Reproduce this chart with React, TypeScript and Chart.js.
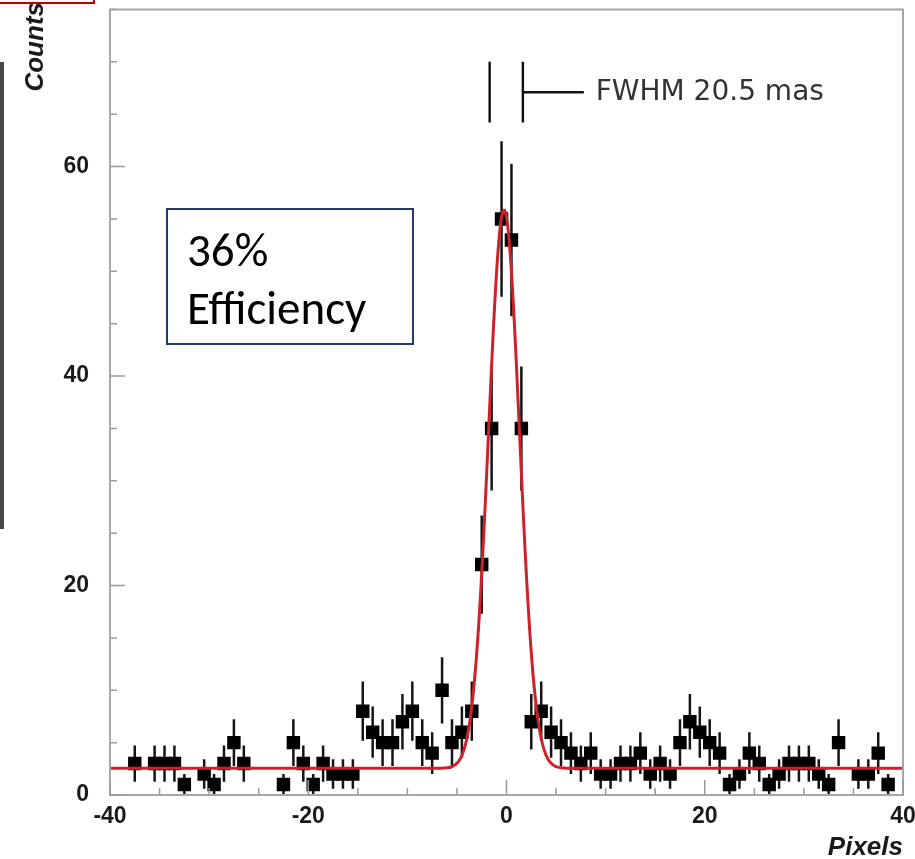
import React, { useEffect, useRef } from "react";
import { Chart, registerables } from "chart.js";

Chart.register(...registerables);

// ---- data ----
const BIN_CENTERS = [
  -37.5, -35.5, -34.5, -33.5, -32.5, -30.5, -29.5, -28.5, -27.5, -26.5,
  -22.5, -21.5, -20.5, -19.5, -18.5, -17.5, -16.5, -15.5, -14.5, -13.5,
  -12.5, -11.5, -10.5, -9.5, -8.5, -7.5, -6.5, -5.5, -4.5, -3.5,
  -2.5, -1.5, -0.5, 0.5, 1.5, 2.5, 3.5, 4.5, 5.5, 6.5,
  7.5, 8.5, 9.5, 10.5, 11.5, 12.5, 13.5, 14.5, 15.5, 16.5,
  17.5, 18.5, 19.5, 20.5, 21.5, 22.5, 23.5, 24.5, 25.5, 26.5,
  27.5, 28.5, 29.5, 30.5, 31.5, 32.5, 33.5, 35.5, 36.5, 37.5,
  38.5,
];
const COUNTS = [
  3, 3, 3, 3, 1, 2, 1, 3, 5, 3,
  1, 5, 3, 1, 3, 2, 2, 2, 8, 6,
  5, 5, 7, 8, 5, 4, 10, 5, 6, 8,
  22, 35, 55, 53, 35, 7, 8, 6, 5, 4,
  3, 4, 2, 2, 3, 3, 4, 2, 3, 2,
  5, 7, 6, 5, 4, 1, 2, 4, 3, 1,
  2, 3, 3, 3, 2, 1, 5, 2, 2, 4,
  1,
];

// Gaussian + constant fit parameters
const FIT_BASELINE = 2.55;
const FIT_AMPLITUDE = 53.3;
const FIT_MEAN = -0.25;
const FIT_SIGMA = 1.55;

const X_MIN = -40;
const X_MAX = 40;
const Y_MIN = 0;
const Y_MAX = 75;
const X_TICKS = [-40, -20, 0, 20, 40];
const Y_TICKS = [0, 20, 40, 60];
const MINOR_STEP = 5;

const X_TITLE = "Pixels";
const Y_TITLE = "Counts";
const FWHM_LABEL = "FWHM 20.5 mas";
const FWHM_LEFT = -1.7;
const FWHM_RIGHT = 1.65;
const FWHM_Y_LOW = 64.2;
const FWHM_Y_HIGH = 70;
const FWHM_ARM_END = 7.8;
const FWHM_ARM_Y = 67.1;
const FWHM_TEXT_X = 9.0;
const BOX_LINES = ["36%", "Efficiency"];

const FIT_STEP = 0.1;

function fitPoints() {
  const pts: { x: number; y: number }[] = [];
  const n = Math.round((X_MAX - X_MIN) / FIT_STEP);
  for (let i = 0; i <= n; i++) {
    const x = X_MIN + i * FIT_STEP;
    const z = (x - FIT_MEAN) / FIT_SIGMA;
    pts.push({ x, y: FIT_BASELINE + FIT_AMPLITUDE * Math.exp(-0.5 * z * z) });
  }
  return pts;
}

const errorBarsPlugin = {
  id: "errorBars",
  beforeDatasetsDraw(chart: any) {
    const { ctx, chartArea, scales } = chart;
    const xs = scales.x;
    const ys = scales.y;
    ctx.save();
    ctx.beginPath();
    ctx.rect(chartArea.left, chartArea.top, chartArea.right - chartArea.left, chartArea.bottom - chartArea.top);
    ctx.clip();
    ctx.strokeStyle = "#141414";
    ctx.lineWidth = 2.5;
    ctx.beginPath();
    BIN_CENTERS.forEach((c, i) => {
      const n = COUNTS[i];
      const e = Math.sqrt(n);
      const px = xs.getPixelForValue(c);
      ctx.moveTo(px, ys.getPixelForValue(n - e));
      ctx.lineTo(px, ys.getPixelForValue(n + e));
    });
    ctx.stroke();
    ctx.restore();
  },
};

const decorPlugin = {
  id: "decor",
  afterDraw(chart: any) {
    const { ctx, chartArea, scales } = chart;
    const xs = scales.x;
    const ys = scales.y;
    const { left, right, top, bottom } = chartArea;
    ctx.save();

    // frame
    ctx.strokeStyle = "#a6a6a6";
    ctx.lineWidth = 2;
    ctx.strokeRect(left, top, right - left, bottom - top);

    // inward ticks
    ctx.lineWidth = 1.5;
    ctx.strokeStyle = "#9a9a9a";
    ctx.beginPath();
    for (let v = X_MIN; v <= X_MAX; v += MINOR_STEP) {
      const px = xs.getPixelForValue(v);
      const len = X_TICKS.includes(v) ? 15 : 7;
      ctx.moveTo(px, bottom);
      ctx.lineTo(px, bottom - len);
    }
    for (let v = Y_MIN; v <= Y_MAX; v += MINOR_STEP) {
      const py = ys.getPixelForValue(v);
      const len = Y_TICKS.includes(v) ? 15 : 7;
      ctx.moveTo(left, py);
      ctx.lineTo(left + len, py);
    }
    ctx.stroke();

    // axis titles
    ctx.fillStyle = "#1a1a1a";
    ctx.font = "italic bold 26px 'Liberation Sans', Arial, sans-serif";
    ctx.textAlign = "right";
    ctx.textBaseline = "alphabetic";
    ctx.fillText(X_TITLE, 903, 855);
    ctx.save();
    ctx.translate(43, 2);
    ctx.rotate(-Math.PI / 2);
    ctx.textAlign = "right";
    ctx.fillText(Y_TITLE, 0, 0);
    ctx.restore();

    // FWHM annotation
    ctx.strokeStyle = "#111";
    ctx.lineWidth = 2.4;
    ctx.beginPath();
    const xl = xs.getPixelForValue(FWHM_LEFT);
    const xr = xs.getPixelForValue(FWHM_RIGHT);
    const yl = ys.getPixelForValue(FWHM_Y_LOW);
    const yh = ys.getPixelForValue(FWHM_Y_HIGH);
    ctx.moveTo(xl, yl);
    ctx.lineTo(xl, yh);
    ctx.moveTo(xr, yl);
    ctx.lineTo(xr, yh);
    const ya = ys.getPixelForValue(FWHM_ARM_Y);
    ctx.moveTo(xr, ya);
    ctx.lineTo(xs.getPixelForValue(FWHM_ARM_END), ya);
    ctx.stroke();
    ctx.fillStyle = "#333";
    ctx.font = "28px 'DejaVu Sans', sans-serif";
    ctx.textAlign = "left";
    ctx.textBaseline = "middle";
    ctx.fillText(FWHM_LABEL, xs.getPixelForValue(FWHM_TEXT_X), ya);

    // text box
    ctx.strokeStyle = "#213a6b";
    ctx.lineWidth = 2;
    ctx.strokeRect(167, 209, 246, 135);
    ctx.fillStyle = "#000";
    ctx.font = "47px Carlito, Lato, 'Noto Sans', sans-serif";
    ctx.textAlign = "left";
    ctx.textBaseline = "alphabetic";
    ctx.fillText(BOX_LINES[0], 187, 266);
    ctx.fillText(BOX_LINES[1], 187, 324);

    // page decorations outside the plot
    ctx.fillStyle = "#484848";
    ctx.fillRect(0, 62, 4, 467);
    ctx.strokeStyle = "#c00000";
    ctx.lineWidth = 2;
    ctx.strokeRect(-5, -10, 99, 13);

    ctx.restore();
  },
};

export default function App() {
  const ref = useRef<HTMLCanvasElement | null>(null);
  useEffect(() => {
    if (!ref.current) return;
    const points = BIN_CENTERS.map((x, i) => ({ x, y: COUNTS[i] }));
    const tickFont = { family: "'Liberation Sans', Arial, sans-serif", size: 23, weight: "bold" as const };
    const chart = new Chart(ref.current, {
      type: "scatter",
      data: {
        datasets: [
          {
            type: "line",
            label: "fit",
            data: fitPoints(),
            borderColor: "#cf2129",
            borderWidth: 3,
            pointRadius: 0,
            tension: 0,
            fill: false,
            order: 0,
          } as any,
          {
            type: "scatter",
            label: "data",
            data: points,
            pointStyle: "rect",
            pointRadius: 9.5,
            backgroundColor: "#000",
            borderWidth: 0,
            order: 1,
          } as any,
        ],
      },
      options: {
        animation: false,
        responsive: false,
        maintainAspectRatio: false,
        layout: { padding: { top: 4, right: 12, left: 0, bottom: 0 } },
        plugins: { legend: { display: false }, tooltip: { enabled: false } },
        scales: {
          x: {
            type: "linear",
            min: X_MIN,
            max: X_MAX,
            grid: { display: false, drawTicks: false },
            border: { display: false },
            ticks: { font: tickFont, color: "#1a1a1a", padding: 8, maxRotation: 0 },
            afterBuildTicks: (s: any) => {
              s.ticks = X_TICKS.map((v) => ({ value: v }));
            },
            afterFit: (s: any) => {
              s.height = 64;
              s.paddingLeft = 0;
              s.paddingRight = 0;
            },
          },
          y: {
            type: "linear",
            min: Y_MIN,
            max: Y_MAX,
            grid: { display: false, drawTicks: false },
            border: { display: false },
            ticks: { font: tickFont, color: "#1a1a1a", padding: 21 },
            afterBuildTicks: (s: any) => {
              s.ticks = Y_TICKS.map((v) => ({ value: v }));
            },
            afterFit: (s: any) => {
              s.width = 110;
              s.paddingTop = 0;
              s.paddingBottom = 0;
            },
          },
        },
      } as any,
      plugins: [errorBarsPlugin, decorPlugin],
    });
    return () => chart.destroy();
  }, []);
  return (
    <div style={{ position: "fixed", left: 0, top: 0, width: 915, height: 859, background: "#fff" }}>
      <canvas ref={ref} width={915} height={859} style={{ display: "block" }} />
    </div>
  );
}
